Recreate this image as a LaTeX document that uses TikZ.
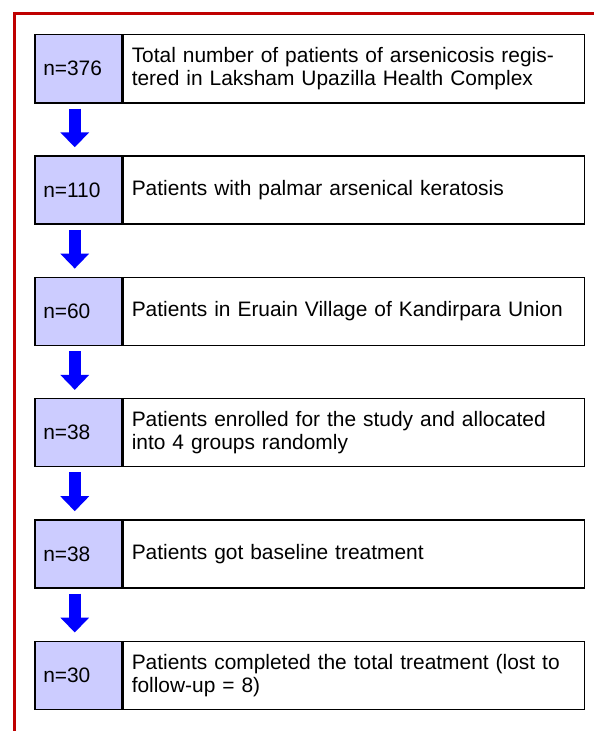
\documentclass[tikz,border=0pt]{standalone}
\usepackage{fontspec}
\setmainfont{Liberation Sans}
\usetikzlibrary{positioning, arrows.meta}

\begin{document}
\begin{tikzpicture}[x=1bp, y=1bp,
  count/.style={draw, line width=1.5bp, fill=blue!20, minimum height=68bp,
    text width=70bp, inner xsep=8.5bp, align=left, anchor=north west},
  stage/.style={draw, line width=1.5bp, minimum height=68bp,
    text width=444bp, inner xsep=8.5bp, align=left},
  down/.style={draw=blue, line width=12bp,
    -{Triangle[length=15bp, width=28bp, fill=blue]}}]
  \useasboundingbox (0,0) rectangle (594,-731);
  \fontsize{21}{23}\selectfont

  % red frame
  \draw[line width=3bp, red!75!black] (14,-731) -- (14,-14) -- (594,-14);

  % boxes
  \node[count] (n1) at (34,-34) {n=376};
  \node[stage, right=0pt of n1] (t1) {Total number of patients of arsenicosis regis-\\tered in Laksham Upazilla Health Complex};
  \node[count, below=51.8bp of n1.south west, anchor=north west] (n2) {n=110};
  \node[stage, right=0pt of n2] (t2) {Patients with palmar arsenical keratosis};
  \node[count, below=51.8bp of n2.south west, anchor=north west] (n3) {n=60};
  \node[stage, right=0pt of n3] (t3) {Patients in Eruain Village of Kandirpara Union};
  \node[count, below=51.8bp of n3.south west, anchor=north west] (n4) {n=38};
  \node[stage, right=0pt of n4] (t4) {Patients enrolled for the study and allocated\\into 4 groups randomly};
  \node[count, below=51.8bp of n4.south west, anchor=north west] (n5) {n=38};
  \node[stage, right=0pt of n5] (t5) {Patients got baseline treatment};
  \node[count, below=51.8bp of n5.south west, anchor=north west] (n6) {n=30};
  \node[stage, right=0pt of n6] (t6) {Patients completed the total treatment (lost to\\follow-up = 8)};

  % arrows
  \draw[down] ([xshift=-3.5bp, yshift=-5bp]n1.south) -- ([xshift=-3.5bp, yshift=8bp]n2.north);
  \draw[down] ([xshift=-3.5bp, yshift=-5bp]n2.south) -- ([xshift=-3.5bp, yshift=8bp]n3.north);
  \draw[down] ([xshift=-3.5bp, yshift=-5bp]n3.south) -- ([xshift=-3.5bp, yshift=8bp]n4.north);
  \draw[down] ([xshift=-3.5bp, yshift=-5bp]n4.south) -- ([xshift=-3.5bp, yshift=8bp]n5.north);
  \draw[down] ([xshift=-3.5bp, yshift=-5bp]n5.south) -- ([xshift=-3.5bp, yshift=8bp]n6.north);
\end{tikzpicture}
\end{document}
